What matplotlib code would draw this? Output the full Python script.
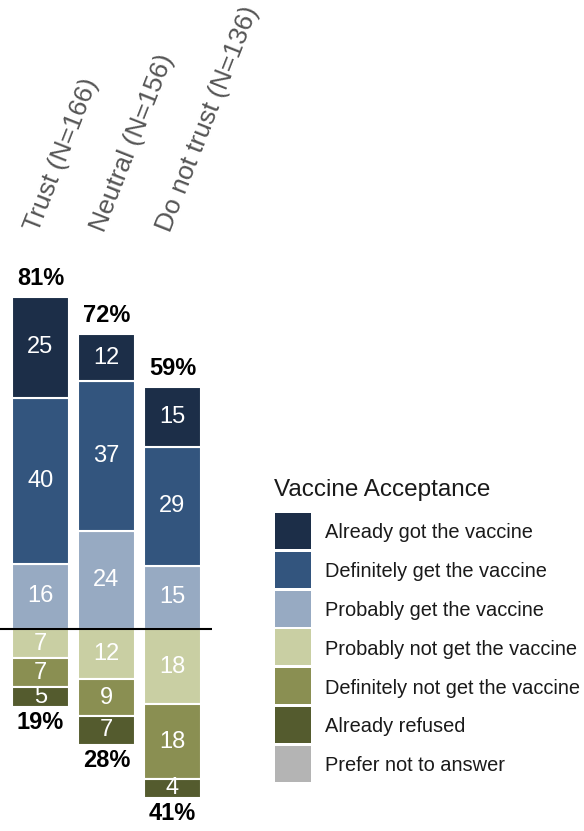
import matplotlib.pyplot as plt
from matplotlib.patches import Rectangle

plt.rcParams['font.family'] = ['Liberation Sans', 'DejaVu Sans']

groups = ['Trust (N=166)', 'Neutral (N=156)', 'Do not trust (N=136)']

# positive side, from top (already got) down to the baseline
already_got = [24.6, 11.6, 14.6]
definitely_get = [40.5, 36.6, 29.0]
probably_get = [15.9, 23.8, 15.4]
# negative side, from the baseline down
probably_not = [7.1, 12.3, 18.4]
definitely_not = [7.1, 9.0, 18.3]
already_refused = [4.8, 6.9, 4.4]

legend_labels = ['Already got the vaccine', 'Definitely get the vaccine',
                 'Probably get the vaccine', 'Probably not get the vaccine',
                 'Definitely not get the vaccine', 'Already refused',
                 'Prefer not to answer']
colors = ['#1c2e48', '#33557e', '#97aac2', '#c9cfa3', '#8a8f52', '#545b2e', '#b4b4b4']

fig = plt.figure(figsize=(5.84, 8.31), dpi=100)
ax = fig.add_axes([0, 0, 212 / 584, (831 - 200) / 831])
px = 4.1  # pixels per percentage point
ax.set_ylim(-(831 - 629) / px, (629 - 200) / px)
ax.set_xlim(-40.5 / 66, (212 - 40.5) / 66)
ax.axis('off')

x = range(len(groups))
width = 57 / 66

pos_series = [probably_get, definitely_get, already_got]
pos_colors = [colors[2], colors[1], colors[0]]
neg_series = [probably_not, definitely_not, already_refused]
neg_colors = [colors[3], colors[4], colors[5]]

bottom = [0.0] * 3
for vals, c in zip(pos_series, pos_colors):
    ax.bar(x, vals, width, bottom=bottom, color=c, edgecolor='white', linewidth=1.5)
    for i, v in enumerate(vals):
        ax.text(i, bottom[i] + v / 2, f'{v:.0f}', ha='center', va='center',
                color='white', fontsize=17)
    bottom = [b + v for b, v in zip(bottom, vals)]
pos_tot = bottom

bottom = [0.0] * 3
for vals, c in zip(neg_series, neg_colors):
    ax.bar(x, [-v for v in vals], width, bottom=bottom, color=c,
           edgecolor='white', linewidth=1.5)
    for i, v in enumerate(vals):
        ax.text(i, bottom[i] - v / 2, f'{v:.0f}', ha='center', va='center',
                color='white', fontsize=17)
    bottom = [b - v for b, v in zip(bottom, vals)]
neg_tot = bottom

for i in x:
    ax.annotate(f'{round(pos_tot[i])}%', (i, pos_tot[i]), xytext=(0, 5),
                textcoords='offset points', ha='center', va='bottom',
                fontsize=17, fontweight='bold')
    ax.annotate(f'{round(-neg_tot[i])}%', (i, neg_tot[i]), xytext=(0, -3),
                textcoords='offset points', ha='center', va='top',
                fontsize=17, fontweight='bold')
    ax.text(i - 0.03, 96.6, groups[i], rotation=68.5, rotation_mode='anchor',
            ha='left', va='baseline', fontsize=19, color='#555555', clip_on=False)

ax.axhline(0, color='black', linewidth=1.5)

# legend drawn in a pixel-coordinate overlay
leg = fig.add_axes([0, 0, 1, 1], facecolor='none')
leg.set_xlim(0, 584)
leg.set_ylim(831, 0)
leg.axis('off')
leg.text(274, 490, 'Vaccine Acceptance', ha='left', va='center',
         fontsize=17.5, color='#1a1a1a')
for k, (lab, c) in enumerate(zip(legend_labels, colors)):
    top = 513 + k * 38.8
    leg.add_patch(Rectangle((275, top), 36, 36, facecolor=c, edgecolor='none'))
    leg.text(325, top + 18, lab, ha='left', va='center_baseline',
             fontsize=14.4, color='#1a1a1a')

fig.savefig('out.png', dpi=100)
